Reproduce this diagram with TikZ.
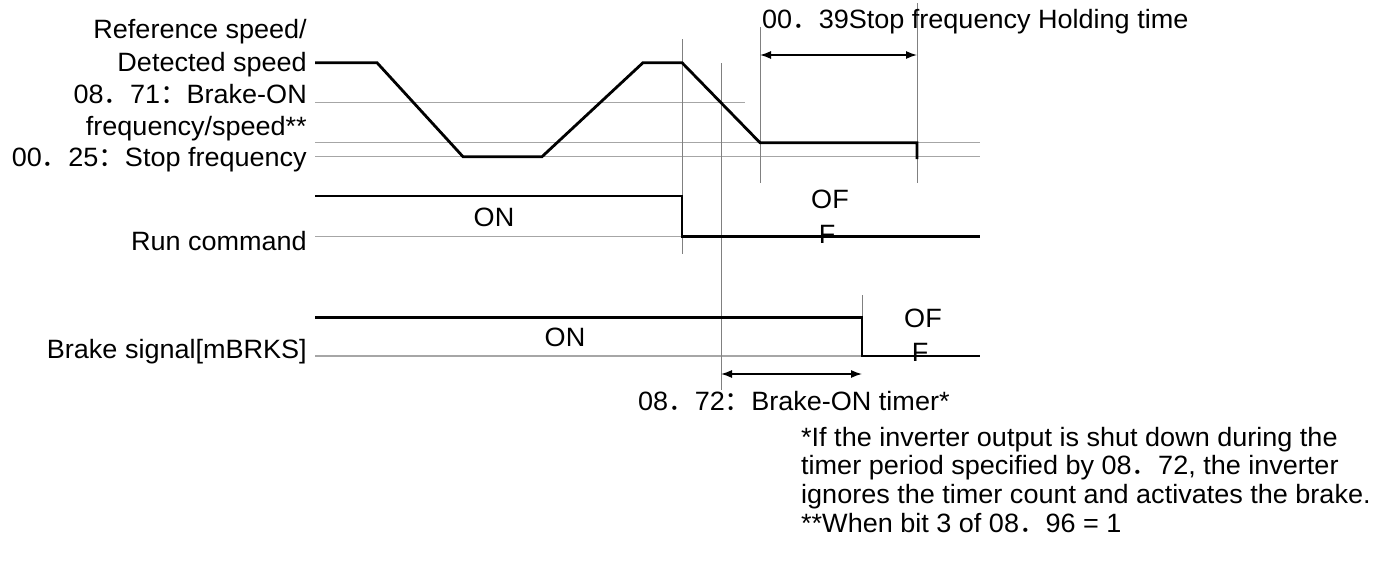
\documentclass[tikz,border=0pt]{standalone}
\usepackage{fontspec}
\setmainfont{Liberation Sans}[FakeStretch=1.02]
\newfontfamily\cjk{Noto Sans CJK SC}
\usetikzlibrary{arrows.meta}
\newcommand\fdot{{\cjk ．}}
\newcommand\fcol{{\cjk ：}}
\begin{document}
\begin{tikzpicture}[x=1pt,y=-1pt,
  sig/.style={line width=2.8pt, line join=miter},
  refline/.style={line width=1.4pt, color=black!35},
  vline/.style={line width=1pt, color=black!50},
  dimarrow/.style={line width=1.3pt, {Latex[length=11pt,width=8pt]}-{Latex[length=11pt,width=8pt]}},
  lab/.style={font=\fontsize{26.5}{30}\selectfont, inner sep=0pt},
]
\useasboundingbox (0,0) rectangle (1387,562);

% ---------- labels on the left ----------
\node[lab, anchor=base east] (l1) at (307,38.3) {Reference speed/};
\node[lab, anchor=base east] (l2) at (307,71.3) {Detected speed};
\node[lab, anchor=base east] (l3) at (307,103.3) {08\fdot 71\fcol Brake-ON};
\node[lab, anchor=base east] (l4) at (307,135) {frequency/speed**};
\node[lab, anchor=base east] (l5) at (307,166.7) {00\fdot 25\fcol Stop frequency};
\node[lab, anchor=base east] (l6) at (307,250.7) {Run command};
\node[lab, anchor=base east] (l7) at (307,358) {Brake signal[mBRKS]};

% ---------- reference (gray) lines ----------
\draw[refline] (315,102.7) -- (745,102.7);
\draw[refline] (315,142.7) -- (980,142.7);
\draw[refline] (315,156.7) -- (980,156.7);
\draw[refline] (315,236.7) -- (682,236.7);
\draw[refline] (315,356) -- (862,356);

% ---------- vertical time markers ----------
\coordinate (t1top) at (682,39);   \coordinate (t1bot) at (682,254);
\coordinate (t2top) at (721,63);   \coordinate (t2bot) at (721,390);
\coordinate (t3top) at (760,27);   \coordinate (t3bot) at (760,183);
\coordinate (t4top) at (917,3);    \coordinate (t4bot) at (917,183);
\coordinate (t5top) at (862,295);  \coordinate (t5bot) at (862,357);
\draw[vline] (t1top) -- (t1bot);
\draw[vline] (t2top) -- (t2bot);
\draw[vline] (t3top) -- (t3bot);
\draw[vline] (t4top) -- (t4bot);
\draw[vline] (t5top) -- (t5bot);

% ---------- speed curve ----------
\draw[sig] (315,62.7) -- (377,62.7) -- (463,156.7) -- (542,156.7) -- (643,62.7)
  -- (682,62.7) -- (760,142.7) -- (917,142.7) -- (917,159);

% ---------- run command ----------
\draw[sig] (315,196) -- (682,196) -- (682,236.7) -- (980,236.7);
\node[lab] (on1) at (494,217) {ON};
\node[lab, anchor=base] (of1) at (830,208) {OF};
\node[lab, anchor=base] (f1) at (827,243) {F};

% ---------- brake signal ----------
\draw[sig] (315,317.7) -- (862,317.7) -- (862,356) -- (980,356);
\node[lab] (on2) at (565,337) {ON};
\node[lab, anchor=base] (of2) at (923,327) {OF};
\node[lab, anchor=base] (f2) at (920,361) {F};

% ---------- dimension arrows ----------
\coordinate (h1) at (760,55);  \coordinate (h2) at (917,55);
\draw[dimarrow] (h1) -- (h2);
\node[lab, anchor=base west] (hold) at (762,28) {00\fdot 39Stop frequency Holding time};

\coordinate (b1) at (721,374); \coordinate (b2) at (862,374);
\draw[dimarrow] (b1) -- (b2);
\node[lab, anchor=base west] (bon) at (638,410.7) {08\fdot 72\fcol Brake-ON timer*};

% ---------- notes ----------
\node[lab, anchor=base west] (n1) at (801,446) {*If the inverter output is shut down during the};
\node[lab, anchor=base west] (n2) at (801,474.9) {timer period specified by 08\fdot 72, the inverter};
\node[lab, anchor=base west] (n3) at (801,503.8) {ignores the timer count and activates the brake.};
\node[lab, anchor=base west] (n4) at (801,532.7) {**When bit 3 of 08\fdot 96 = 1};
\end{tikzpicture}
\end{document}
